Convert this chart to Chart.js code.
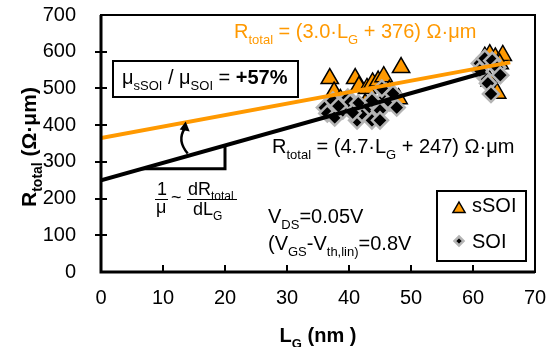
<!DOCTYPE html>
<html>
<head>
<meta charset="utf-8">
<script src="https://cdn.jsdelivr.net/npm/chart.js@4.4.1/dist/chart.umd.min.js"></script>
<style>
html, body { margin: 0; padding: 0; background: #fff; }
</style>
</head>
<body>
<canvas id="chart" width="556" height="347"></canvas>
<script>
var xTicks = [0, 10, 20, 30, 40, 50, 60, 70];
var yTicks = [0, 100, 200, 300, 400, 500, 600, 700];

// sSOI devices (L_G in nm, R_total in Ohm.um)
var sSOI_LG = [36.9, 37.6, 38.6, 41.0, 41.6, 42.9, 43.8, 44.7, 45.6, 46.5, 48.4, 48.0, 42.6, 39.6,
               61.9, 62.7, 63.6, 64.8, 64.3, 62.7, 63.9];
var sSOI_R  = [527, 490, 470, 527, 505, 500, 515, 520, 532, 495, 557, 472, 458, 455,
               585, 592, 583, 590, 567, 520, 487];

// SOI devices
var SOI_LG = [36.1, 37.4, 36.5, 37.7, 39.0, 39.8, 40.2, 41.3, 42.1, 41.5, 43.4, 43.7, 45.0, 45.0,
              45.8, 46.6, 45.3, 47.1, 47.7, 43.7, 40.6, 38.3,
              61.1, 61.9, 63.1, 63.9, 64.4, 61.6, 62.4, 62.9, 61.1];
var SOI_R  = [448, 467, 432, 421, 440, 475, 462, 413, 432, 459, 448, 413, 440, 413,
              475, 462, 500, 486, 448, 467, 434, 452,
              568, 582, 576, 557, 536, 536, 514, 485, 549];

// linear fits
var fitSSOI_LG = [0, 66];
var fitSSOI_R  = [365, 571];
var fitSOI_LG  = [0, 62];
var fitSOI_R   = [250, 544];

var ORANGE = '#FF9900';
var FONT = '"Liberation Sans", Arial, Helvetica, sans-serif';

function pts(xs, ys) {
    return xs.map(function(x, i) { return { x: x, y: ys[i] }; });
}

function fitAt(xs, ys, x) {
    return ys[0] + (ys[1] - ys[0]) * (x - xs[0]) / (xs[1] - xs[0]);
}

// draws text pieces; style 's' = subscript, 'b' = bold
function rich(ctx, x, y, parts, size, color) {
    ctx.save();
    ctx.fillStyle = color;
    ctx.textAlign = 'left';
    ctx.textBaseline = 'alphabetic';
    parts.forEach(function(p) {
        var st = p[1] || '';
        var sub = st.indexOf('s') >= 0;
        var bold = st.indexOf('b') >= 0;
        var fs = sub ? Math.round(size * 0.65) : size;
        ctx.font = (bold ? 'bold ' : '') + fs + 'px ' + FONT;
        ctx.fillText(p[0], x, y + (sub ? size * 0.3 : 0));
        x += ctx.measureText(p[0]).width;
    });
    ctx.restore();
    return x;
}

function triangle(ctx, x, y, r) {
    ctx.beginPath();
    ctx.moveTo(x, y - r);
    ctx.lineTo(x + r * 0.866, y + r / 2);
    ctx.lineTo(x - r * 0.866, y + r / 2);
    ctx.closePath();
    ctx.fillStyle = ORANGE;
    ctx.fill();
    ctx.lineWidth = 1.5;
    ctx.strokeStyle = '#000';
    ctx.stroke();
}

function diamond(ctx, x, y, r) {
    ctx.beginPath();
    ctx.moveTo(x, y - r);
    ctx.lineTo(x + r, y);
    ctx.lineTo(x, y + r);
    ctx.lineTo(x - r, y);
    ctx.closePath();
    ctx.fillStyle = '#000';
    ctx.fill();
    ctx.lineWidth = 2.5;
    ctx.strokeStyle = '#b4b4b4';
    ctx.stroke();
}

var overlay = {
    id: 'overlay',
    afterDraw: function(chart) {
        var ctx = chart.ctx, a = chart.chartArea;
        var xs = chart.scales.x, ys = chart.scales.y;
        ctx.save();

        // frame
        ctx.strokeStyle = '#000';
        ctx.lineWidth = 2;
        ctx.strokeRect(a.left, a.top, a.right - a.left, a.bottom - a.top);
        ctx.lineWidth = 3;
        ctx.beginPath();
        ctx.moveTo(a.left, a.top);
        ctx.lineTo(a.left, a.bottom);
        ctx.lineTo(a.right, a.bottom);
        ctx.stroke();

        // tick marks
        ctx.lineWidth = 2;
        ctx.beginPath();
        yTicks.slice(1, -1).forEach(function(v) {
            var py = Math.round(ys.getPixelForValue(v));
            ctx.moveTo(a.left - 6, py);
            ctx.lineTo(a.left + 6, py);
        });
        xTicks.slice(1, -1).forEach(function(v) {
            var px = Math.round(xs.getPixelForValue(v));
            ctx.moveTo(px, a.bottom);
            ctx.lineTo(px, a.bottom - 7);
        });
        ctx.stroke();

        // axis titles
        var xEnd = rich(ctx, 0, -100, [['L', 'b'], ['G', 'bs'], [' (nm )', 'b']], 20, '#000');
        rich(ctx, (a.left + a.right) / 2 - xEnd / 2, 342, [['L', 'b'], ['G', 'bs'], [' (nm )', 'b']], 20, '#000');
        ctx.save();
        ctx.translate(36, 207);
        ctx.rotate(-Math.PI / 2);
        rich(ctx, 0, 0, [['R', 'b'], ['total', 'bs'], [' (\u03A9\u00B7\u03BCm)', 'b']], 21, '#000');
        ctx.restore();

        // fit equations
        rich(ctx, 234, 38, [['R'], ['total', 's'], [' = (3.0\u00B7L'], ['G', 's'], [' + 376) \u03A9\u00B7\u03BCm']], 20, ORANGE);
        rich(ctx, 272, 153, [['R'], ['total', 's'], [' = (4.7\u00B7L'], ['G', 's'], [' + 247) \u03A9\u00B7\u03BCm']], 20, '#000');

        // mobility ratio box
        ctx.lineWidth = 2;
        ctx.strokeStyle = '#000';
        ctx.strokeRect(113, 61, 185, 36);
        rich(ctx, 122, 84, [['\u03BC'], ['sSOI', 's'], [' / \u03BC'], ['SOI', 's'], [' = '], ['+57%', 'b']], 20, '#000');

        // arrow from black to orange line
        var ax = 13.5;
        var tipX = xs.getPixelForValue(ax);
        var tipY = ys.getPixelForValue(fitAt(fitSSOI_LG, fitSSOI_R, ax));
        ctx.lineWidth = 2.5;
        ctx.beginPath();
        ctx.moveTo(tipX + 3, tipY + 31);
        ctx.quadraticCurveTo(tipX - 8, tipY + 18, tipX, tipY + 6);
        ctx.stroke();
        ctx.beginPath();
        ctx.moveTo(tipX + 1, tipY - 1);
        ctx.lineTo(tipX + 5, tipY + 9);
        ctx.lineTo(tipX - 5, tipY + 7);
        ctx.closePath();
        ctx.fillStyle = '#000';
        ctx.fill();

        // slope triangle on SOI fit
        var yBase = 281, xRight = 20;
        var xLeft = (yBase - fitSOI_R[0]) * (fitSOI_LG[1] - fitSOI_LG[0]) / (fitSOI_R[1] - fitSOI_R[0]);
        ctx.lineWidth = 3;
        ctx.beginPath();
        ctx.moveTo(xs.getPixelForValue(xLeft), ys.getPixelForValue(yBase));
        ctx.lineTo(xs.getPixelForValue(xRight), ys.getPixelForValue(yBase));
        ctx.lineTo(xs.getPixelForValue(xRight), ys.getPixelForValue(fitAt(fitSOI_LG, fitSOI_R, xRight)));
        ctx.stroke();

        // 1/mu ~ dR/dLG
        rich(ctx, 157, 195, [['1']], 18, '#000');
        rich(ctx, 156, 213, [['\u03BC']], 18, '#000');
        rich(ctx, 171, 203, [['~']], 18, '#000');
        rich(ctx, 188, 195, [['dR'], ['total', 's']], 18, '#000');
        rich(ctx, 193, 215, [['dL'], ['G', 's']], 18, '#000');
        ctx.lineWidth = 1.2;
        ctx.beginPath();
        ctx.moveTo(155, 199.5); ctx.lineTo(168, 199.5);
        ctx.moveTo(187, 199.5); ctx.lineTo(237, 199.5);
        ctx.stroke();

        // bias conditions
        rich(ctx, 268, 223, [['V'], ['DS', 's'], ['=0.05V']], 20, '#000');
        rich(ctx, 268, 250, [['(V'], ['GS', 's'], ['-V'], ['th,lin)', 's'], ['=0.8V']], 20, '#000');

        // legend
        ctx.lineWidth = 2;
        ctx.strokeStyle = '#000';
        ctx.strokeRect(437, 191, 89, 70);
        triangle(ctx, 459, 209, 7);
        diamond(ctx, 459, 241, 4.5);
        rich(ctx, 472, 212, [[chart.data.datasets[0].label]], 20, '#000');
        rich(ctx, 472, 248, [[chart.data.datasets[1].label]], 20, '#000');

        ctx.restore();
    }
};

new Chart(document.getElementById('chart'), {
    type: 'scatter',
    data: {
        datasets: [{
            label: 'sSOI',
            data: pts(sSOI_LG, sSOI_R),
            pointStyle: 'triangle',
            pointRadius: 10,
            backgroundColor: ORANGE,
            borderColor: '#000',
            borderWidth: 1.5,
            order: 4
        }, {
            label: 'SOI',
            data: pts(SOI_LG, SOI_R),
            pointStyle: 'rectRot',
            pointRadius: 8,
            backgroundColor: '#000',
            borderColor: '#b4b4b4',
            borderWidth: 2.5,
            order: 3
        }, {
            type: 'line',
            label: 'fit SOI',
            data: pts(fitSOI_LG, fitSOI_R),
            borderColor: '#000',
            borderWidth: 4,
            pointRadius: 0,
            order: 2
        }, {
            type: 'line',
            label: 'fit sSOI',
            data: pts(fitSSOI_LG, fitSSOI_R),
            borderColor: ORANGE,
            borderWidth: 4,
            pointRadius: 0,
            order: 1
        }]
    },
    options: {
        responsive: false,
        animation: false,
        devicePixelRatio: 1,
        layout: { padding: { left: 0, right: 21, top: 15, bottom: 0 } },
        plugins: { legend: { display: false }, tooltip: { enabled: false } },
        scales: {
            x: {
                type: 'linear',
                min: 0, max: 70,
                afterFit: function(s) { s.height = 75; s.paddingLeft = 0; s.paddingRight = 0; },
                afterBuildTicks: function(s) { s.ticks = xTicks.map(function(v) { return { value: v }; }); },
                ticks: { font: { family: FONT, size: 20 }, color: '#000', padding: 6 },
                grid: { display: false },
                border: { display: false }
            },
            y: {
                min: 0, max: 700,
                afterFit: function(s) { s.width = 101; s.paddingTop = 0; s.paddingBottom = 0; },
                afterBuildTicks: function(s) { s.ticks = yTicks.map(function(v) { return { value: v }; }); },
                ticks: { font: { family: FONT, size: 20 }, color: '#000', padding: 17 },
                grid: { display: false },
                border: { display: false }
            }
        }
    },
    plugins: [overlay]
});
</script>
</body>
</html>
